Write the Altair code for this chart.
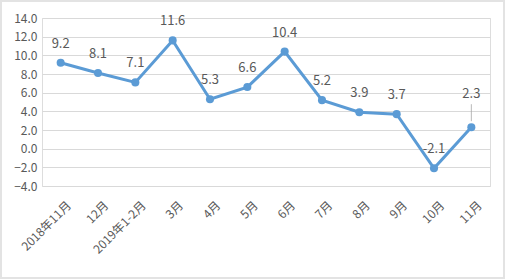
import altair as alt
import pandas as pd

months = ["2018年11月", "12月", "2019年1-2月", "3月", "4月", "5月", "6月", "7月", "8月", "9月", "10月", "11月"]
values = [9.2, 8.1, 7.1, 11.6, 5.3, 6.6, 10.4, 5.2, 3.9, 3.7, -2.1, 2.3]
y_ticks = [-4, -2, 0, 2, 4, 6, 8, 10, 12, 14]

df = pd.DataFrame({"month": months, "value": values})
df["label"] = [f"{v:.1f}" for v in values]
last = months[-1]

FONT = "Liberation Sans Narrow, Noto Sans CJK SC"
GRAY = "#595959"
BLUE = "#5B9BD5"

x = alt.X("month:N", sort=months, scale=alt.Scale(type="point", padding=0.5),
          axis=alt.Axis(title=None, labelAngle=-45, labelAlign="right", labelBaseline="middle",
                        domain=False, ticks=False, labelFont=FONT, labelFontSize=12,
                        labelColor=GRAY, labelPadding=17, labelOffset=8, labelOverlap=False))
y = alt.Y("value:Q", scale=alt.Scale(domain=[-4, 14], nice=False),
          axis=alt.Axis(title=None, values=y_ticks, format=".1f", domain=False, ticks=False,
                        labelFont=FONT, labelFontSize=12, labelColor=GRAY, labelPadding=5,
                        labelOverlap=False, gridColor="#d9d9d9", gridWidth=1))

base = alt.Chart(df)
line = base.mark_line(color=BLUE, strokeWidth=3).encode(x=x, y=y)
pts = base.mark_point(filled=True, color=BLUE, size=65, opacity=1).encode(x=x, y=y)
labels = base.transform_filter(alt.datum.month != last).mark_text(
    font=FONT, fontSize=13, color=GRAY, dy=-19).encode(x=x, y=y, text="label:N")
label_last = base.transform_filter(alt.datum.month == last).mark_text(
    font=FONT, fontSize=13, color=GRAY, dy=-33).encode(x=x, y=y, text="label:N")
leader = base.transform_filter(alt.datum.month == last).mark_rule(
    color="#a6a6a6", strokeWidth=0.8, yOffset=-6, y2Offset=-23).encode(
    x=x, y=y, y2=alt.Y2("value:Q"))
frame = alt.Chart(pd.DataFrame({"a": [0]})).mark_rect(
    fill=None, stroke="#e3e3e3", strokeWidth=2, clip=False).encode(
    x=alt.value(-41), x2=alt.value(462), y=alt.value(-17), y2=alt.value(260))

chart = alt.layer(frame, line, leader, pts, labels, label_last).properties(
    width=448, height=168,
    padding={"left": 42, "top": 18, "right": 15, "bottom": 93},
    autosize=alt.AutoSizeParams(type="none"),
).configure_view(stroke=None).configure(background="white")

chart.save("out.html", embed_options={"renderer": "svg", "actions": False})
